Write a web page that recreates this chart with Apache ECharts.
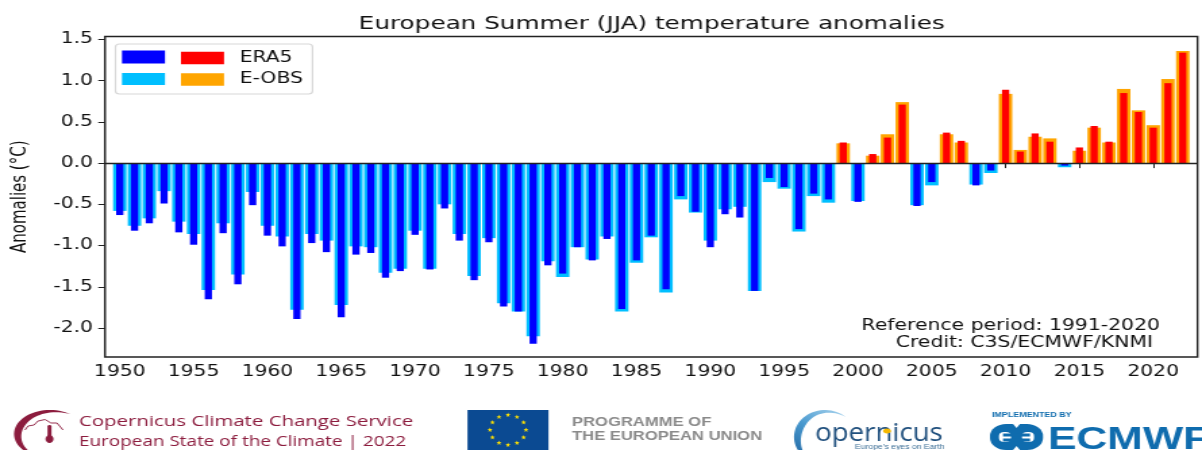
<!DOCTYPE html>
<html><head><meta charset="utf-8">
<style>html,body{margin:0;padding:0;background:#fff;overflow:hidden}#c{width:890px;height:450px;transform:scaleX(1.35056);transform-origin:0 0}</style>
<script src="https://cdn.jsdelivr.net/npm/echarts@6/dist/echarts.min.js"></script>
</head><body><div id="c"></div>
<script>
const years = [1950,1951,1952,1953,1954,1955,1956,1957,1958,1959,1960,1961,1962,1963,1964,1965,1966,1967,1968,1969,1970,1971,1972,1973,1974,1975,1976,1977,1978,1979,1980,1981,1982,1983,1984,1985,1986,1987,1988,1989,1990,1991,1992,1993,1994,1995,1996,1997,1998,1999,2000,2001,2002,2003,2004,2005,2006,2007,2008,2009,2010,2011,2012,2013,2014,2015,2016,2017,2018,2019,2020,2021,2022];
const era5 = [-0.63,-0.82,-0.73,-0.49,-0.84,-0.99,-1.65,-0.85,-1.47,-0.51,-0.88,-1.01,-1.89,-0.97,-1.08,-1.87,-1.11,-1.09,-1.39,-1.31,-0.87,-1.29,-0.55,-0.94,-1.42,-0.96,-1.74,-1.80,-2.19,-1.24,-1.34,-1.02,-1.18,-0.92,-1.77,-1.18,-0.88,-1.53,-0.40,-0.59,-1.02,-0.62,-0.66,-1.55,-0.18,-0.29,-0.80,-0.37,-0.44,0.25,-0.47,0.11,0.31,0.71,-0.52,-0.23,0.37,0.27,-0.27,-0.09,0.89,0.14,0.36,0.26,-0.03,0.19,0.45,0.26,0.85,0.62,0.43,0.97,1.34];
const eobs = [-0.58,-0.76,-0.67,-0.34,-0.71,-0.86,-1.54,-0.73,-1.35,-0.35,-0.76,-0.89,-1.78,-0.86,-0.94,-1.72,-1.01,-1.02,-1.33,-1.28,-0.82,-1.28,-0.50,-0.86,-1.37,-0.91,-1.70,-1.80,-2.10,-1.19,-1.38,-1.02,-1.17,-0.89,-1.80,-1.21,-0.90,-1.57,-0.44,-0.60,-0.94,-0.56,-0.53,-1.55,-0.23,-0.31,-0.83,-0.40,-0.48,0.24,-0.46,0.09,0.35,0.74,-0.51,-0.27,0.35,0.25,-0.26,-0.12,0.84,0.16,0.32,0.30,-0.05,0.15,0.43,0.25,0.90,0.64,0.46,1.02,1.36];
const xTicks = [1950,1955,1960,1965,1970,1975,1980,1985,1990,1995,2000,2005,2010,2015,2020];
const yTicks = [-2,-1.5,-1,-0.5,0,0.5,1,1.5];

const S = 1202/890;                 // the reference is stretched horizontally
const X = px => px/S;               // screen x -> canvas x
const chart = echarts.init(document.getElementById('c'), null, {renderer:'canvas',width:890,height:450});
const FONT = 'DejaVu Sans', TXT = '#111';
const pair = d => years.map((y,i)=>[y,d[i]]);
const signColor = (neg,pos) => p => p.value[1] < 0 ? neg : pos;
const xBase = {type:'value',min:1949,max:2023};

function star(cx,cy,r){const pts=[];for(let i=0;i<10;i++){const a=-Math.PI/2+i*Math.PI/5,q=i%2?r*0.42:r;pts.push([X(cx+q*Math.cos(a)),cy+q*Math.sin(a)]);}return pts;}
function crescent(cx,cy,rx,ry,a0,a1,t){const pts=[],n=40;
 for(let i=0;i<=n;i++){const a=(a0+(a1-a0)*i/n)*Math.PI/180;pts.push([X(cx+rx*Math.cos(a)),cy+ry*Math.sin(a)]);}
 for(let i=n;i>=0;i--){const f=i/n,a=(a0+(a1-a0)*f)*Math.PI/180,k=Math.sin(Math.PI*f)*t;pts.push([X(cx+(rx-k)*Math.cos(a)),cy+(ry-k*0.6)*Math.sin(a)]);}
 return pts;}
const poly = pts => pts.map(p=>[X(p[0]),p[1]]);
const red='#8c1c3e', ec='#0f6cae';
const copGrad = {type:'linear',x:1,y:0,x2:0,y2:1,colorStops:[{offset:0,color:'#a9d4ee'},{offset:0.45,color:'#4a9ad0'},{offset:1,color:'#1a5f9c'}]};
const graphics = [
 {type:'rect',z:5,shape:{x:X(115.5),y:44,width:X(197),height:50,r:3},style:{fill:'rgba(255,255,255,.9)',stroke:'#d8d8d8',lineWidth:1.2}},
 {type:'rect',z:6,shape:{x:X(122),y:50.5,width:X(43),height:13},style:{fill:'#0000ff'}},
 {type:'rect',z:6,shape:{x:X(122),y:73,width:X(43),height:12},style:{fill:'#00bfff'}},
 {type:'text',z:6,x:X(1160),y:319,style:{text:'Reference period: 1991-2020',fill:TXT,font:'15.1px "DejaVu Sans"',align:'right'}},
 {type:'text',z:6,x:X(1153),y:336,style:{text:'Credit: C3S/ECMWF/KNMI',fill:TXT,font:'15.1px "DejaVu Sans"',align:'right'}},
 // C3S block
 {type:'polygon',shape:{points:crescent(50,434,36,24,-55,-255,8)},style:{fill:red}},
 {type:'polyline',shape:{points:poly([[25,430],[28,426],[34,425],[38,421],[45,419.5],[51,423],[57,423],[63,430]])},style:{fill:'none',stroke:red,lineWidth:0.9}},
 {type:'rect',shape:{x:X(47.5),y:425,width:X(4),height:13,r:1.5},style:{fill:red}},
 {type:'ellipse',shape:{cx:X(49.5),cy:439,rx:X(4),ry:4},style:{fill:red}},
 {type:'text',x:X(79),y:414.5,style:{text:'Copernicus Climate Change Service',fill:red,font:'15.1px "Open Sans"'}},
 {type:'text',x:X(79),y:435,style:{text:'European State of the Climate | 2022',fill:red,font:'14px "Open Sans"'}},
 // EU
 {type:'rect',shape:{x:X(467.5),y:410,width:X(81),height:40},style:{fill:'#0b4a92'}},
 ...Array.from({length:12},(_,i)=>{const a=i*Math.PI/6;return {type:'polygon',shape:{points:star(508+18*Math.sin(a),430-15*Math.cos(a),2.6)},style:{fill:'#ffe000'}};}),
 {type:'text',x:X(572),y:416.5,style:{text:'PROGRAMME OF',fill:'#8a8a8a',font:'bold 12.3px "Liberation Sans"'}},
 {type:'text',x:X(572),y:430.5,style:{text:'THE EUROPEAN UNION',fill:'#8a8a8a',font:'bold 12.3px "Liberation Sans"'}},
 // Copernicus
 {type:'polygon',shape:{points:crescent(825,437,31,27,-48,-250,8)},style:{fill:copGrad}},
 {type:'text',x:X(815),y:421,scaleX:0.82,style:{text:'opernicus',fill:'#1f4f7d',font:'25px "Open Sans"'}},
 {type:'ellipse',shape:{cx:X(887),cy:431,rx:X(4),ry:2.4},style:{fill:'#f5b800'}},
 {type:'text',x:X(855),y:444,style:{text:"Europe's eyes on Earth",fill:'#3d6f97',font:'6.4px "Liberation Sans"'}},
 // ECMWF
 {type:'text',x:X(992),y:411.5,style:{text:'IMPLEMENTED BY',fill:ec,font:'bold 6.6px "Liberation Sans"'}},
 {type:'rect',shape:{x:X(990),y:424,width:X(53),height:26,r:12},style:{fill:ec}},
 {type:'rect',shape:{x:X(999),y:432,width:X(12),height:10,r:4},style:{fill:'#fff'}},
 {type:'rect',shape:{x:X(1022),y:432,width:X(12),height:10,r:4},style:{fill:'#fff'}},
 {type:'rect',shape:{x:X(1003),y:433.5,width:X(27),height:3},style:{fill:ec}},
 {type:'rect',shape:{x:X(1003),y:438.5,width:X(27),height:3},style:{fill:ec}},
 {type:'polygon',shape:{points:poly([[1013,424],[1020,424],[1016.5,428]])},style:{fill:'#fff'}},
 {type:'polygon',shape:{points:poly([[1013,450],[1020,450],[1016.5,446]])},style:{fill:'#fff'}},
 {type:'text',x:X(1048),y:424,style:{text:'ECMWF',fill:ec,font:'bold 31.6px "Liberation Sans"'}}
];

chart.setOption({
 animation:false,
 backgroundColor:'#fff',
 title:{text:'European Summer (JJA) temperature anomalies',left:X(645),top:10,textAlign:'center',textStyle:{fontFamily:FONT,fontSize:18.3,fontWeight:'normal',color:TXT}},
 legend:{left:X(181),top:50.5,padding:0,orient:'vertical',icon:'rect',itemWidth:X(43),itemHeight:12.5,itemGap:6.5,z:8,
   textStyle:{fontFamily:FONT,fontSize:15,color:TXT,padding:[0,0,0,X(9)]},selectedMode:false,
   data:[{name:'ERA5',itemStyle:{color:'#ff0000'}},{name:'E-OBS',itemStyle:{color:'#ffa500'}}]},
 grid:{left:X(105),right:890-X(1197.5),top:36.5,bottom:93,outerBoundsMode:'none',containLabel:false,show:true,borderColor:'#222',borderWidth:1.4,backgroundColor:'#fff'},
 xAxis:[
  {...xBase,splitLine:{show:false},axisLine:{show:false},
   axisTick:{show:true,length:5,customValues:xTicks,lineStyle:{color:'#222',width:1}},
   axisLabel:{customValues:xTicks,formatter:v=>String(v),fontFamily:FONT,fontSize:15,color:TXT,margin:8,showMinLabel:true,showMaxLabel:true}},
  {...xBase,show:false}
 ],
 yAxis:{type:'value',min:-2.352,max:1.536,name:'Anomalies (°C)',nameLocation:'middle',nameGap:55,nameTextStyle:{fontFamily:FONT,fontSize:15,color:TXT},
   splitLine:{show:false},axisLine:{show:false},
   axisTick:{show:true,length:5,customValues:yTicks,lineStyle:{color:'#222',width:1}},
   axisLabel:{customValues:yTicks,formatter:v=>v.toFixed(1),fontFamily:FONT,fontSize:15,color:TXT,margin:9}},
 series:[
  {name:'E-OBS',type:'bar',xAxisIndex:0,barWidth:X(13.4),data:pair(eobs),z:2,itemStyle:{color:signColor('#00bfff','#ffa500')}},
  {name:'ERA5',type:'bar',xAxisIndex:1,barWidth:X(7.2),data:pair(era5),z:3,itemStyle:{color:signColor('#0000ff','#ff0000')},
   markLine:{silent:true,symbol:'none',label:{show:false},z:5,lineStyle:{color:'#222',width:1.4,type:'solid'},data:[{yAxis:0}]}}
 ],
 graphic:{elements:graphics}
});
</script></body></html>
